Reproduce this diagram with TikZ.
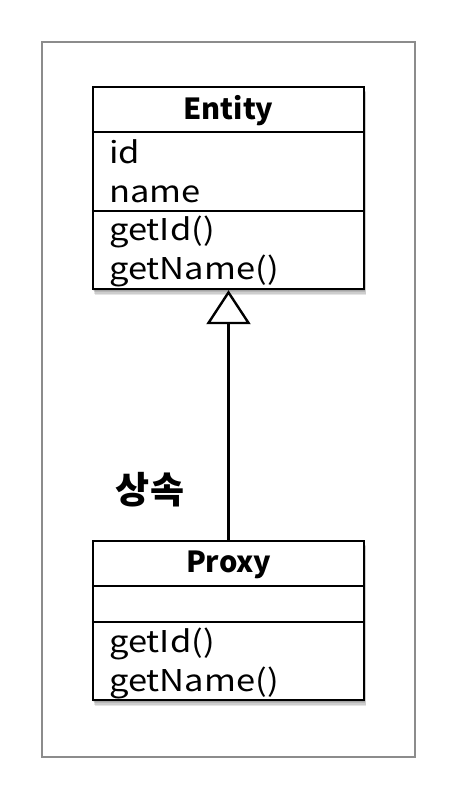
\documentclass[tikz,border=0pt]{standalone}
\usepackage{fontspec}
\setmainfont{Noto Sans CJK KR}
\newfontfamily\latinf{Noto Sans CJK KR}[FakeStretch=1.15]
\newfontfamily\titlef{Noto Sans CJK KR}
\usetikzlibrary{arrows.meta}
\tikzset{
  classbox/.style={draw=black, line width=2.4pt, fill=white, minimum width=271pt, inner sep=0pt},
  divider/.style={draw=black, line width=2.4pt},
  title/.style={font=\titlef\bfseries\fontsize{29}{34}\selectfont, inner sep=0pt},
  member/.style={font=\latinf\fontsize{30}{36}\selectfont, anchor=base west, inner sep=0pt},
  inherit/.style={line width=2.4pt, -{Triangle[open, length=34pt, width=44pt, line width=2.4pt]}},
  shadowbox/.style={fill=black, opacity=0.10},
}
\begin{document}
\begin{tikzpicture}[x=1pt,y=-1pt]
\useasboundingbox (0,0) rectangle (458,790);
\fill[white] (0,0) rectangle (458,790);
\draw[line width=1.2pt, draw=black!45] (42,42) rectangle (415,757);
% shadows
\foreach \d in {1,2,3,4}{
  \fill[shadowbox] (93+\d*0.4,87+\d*1.2) rectangle (364+\d*0.6,289+\d*1.6);
  \fill[shadowbox] (93+\d*0.4,541+\d*1.2) rectangle (364+\d*0.6,700+\d*1.6);
}
% Entity
\node[classbox, minimum height=202pt] (entity) at (228.5,188) {};
\draw[divider] (entity.west |- 0,132) coordinate (e1l) -- (entity.east |- 0,132) coordinate (e1r);
\draw[divider] (entity.west |- 0,211) coordinate (e2l) -- (entity.east |- 0,211) coordinate (e2r);
\node[title] (etitle) at (228.5,111) {Entity};
\node[member] (eid) at (109,163) {id};
\node[member] (ename) at (109,202) {name};
\node[member] (egetid) at (109,240) {getId()};
\node[member] (egetname) at (109,279) {getName()};
% Proxy
\node[classbox, minimum height=159pt] (proxy) at (228.5,620.5) {};
\draw[divider] (proxy.west |- 0,586) coordinate (p1l) -- (proxy.east |- 0,586) coordinate (p1r);
\draw[divider] (proxy.west |- 0,622) coordinate (p2l) -- (proxy.east |- 0,622) coordinate (p2r);
\node[title] (ptitle) at (228.5,565) {Proxy};
\node[member] (pgetid) at (109,652) {getId()};
\node[member] (pgetname) at (109,691) {getName()};
% inheritance
\draw[inherit] (proxy.north) -- (entity.south);
\node[font=\bfseries\fontsize{37}{44}\selectfont, inner sep=0pt] (lbl) at (150,490) {상속};
\end{tikzpicture}
\end{document}
